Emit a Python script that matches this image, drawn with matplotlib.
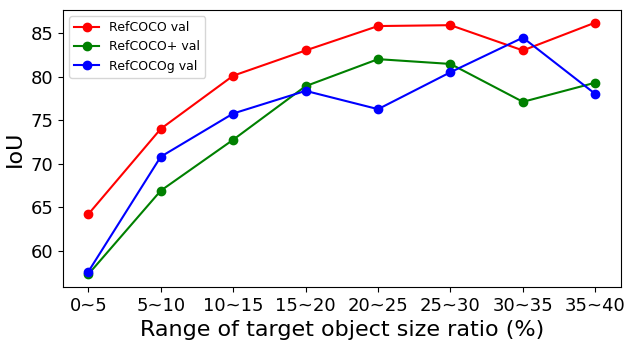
import matplotlib
matplotlib.use('Agg')
import matplotlib.pyplot as plt

ranges = ['0~5', '5~10', '10~15', '15~20', '20~25', '25~30', '30~35', '35~40']
refcoco = [64.2, 74.0, 80.1, 83.0, 85.8, 85.9, 83.0, 86.2]
refcoco_plus = [57.3, 66.9, 72.75, 78.9, 82.0, 81.45, 77.1, 79.3]
refcocog = [57.6, 70.8, 75.76, 78.36, 76.26, 80.5, 84.47, 78.0]

fig, ax = plt.subplots(figsize=(6.26, 3.44), dpi=100)

ax.plot(ranges, refcoco, color='red', marker='o', label='RefCOCO val')
ax.plot(ranges, refcoco_plus, color='green', marker='o', label='RefCOCO+ val')
ax.plot(ranges, refcocog, color='blue', marker='o', label='RefCOCOg val')

ax.set_xlabel('Range of target object size ratio (%)', fontsize=16)
ax.set_ylabel('IoU', fontsize=16)
ax.tick_params(axis='both', labelsize=13)
ax.legend(loc='upper left', fontsize=9)

fig.subplots_adjust(left=0.1006, right=0.9915, top=0.971, bottom=0.166)
fig.savefig('out.png', dpi=100)
